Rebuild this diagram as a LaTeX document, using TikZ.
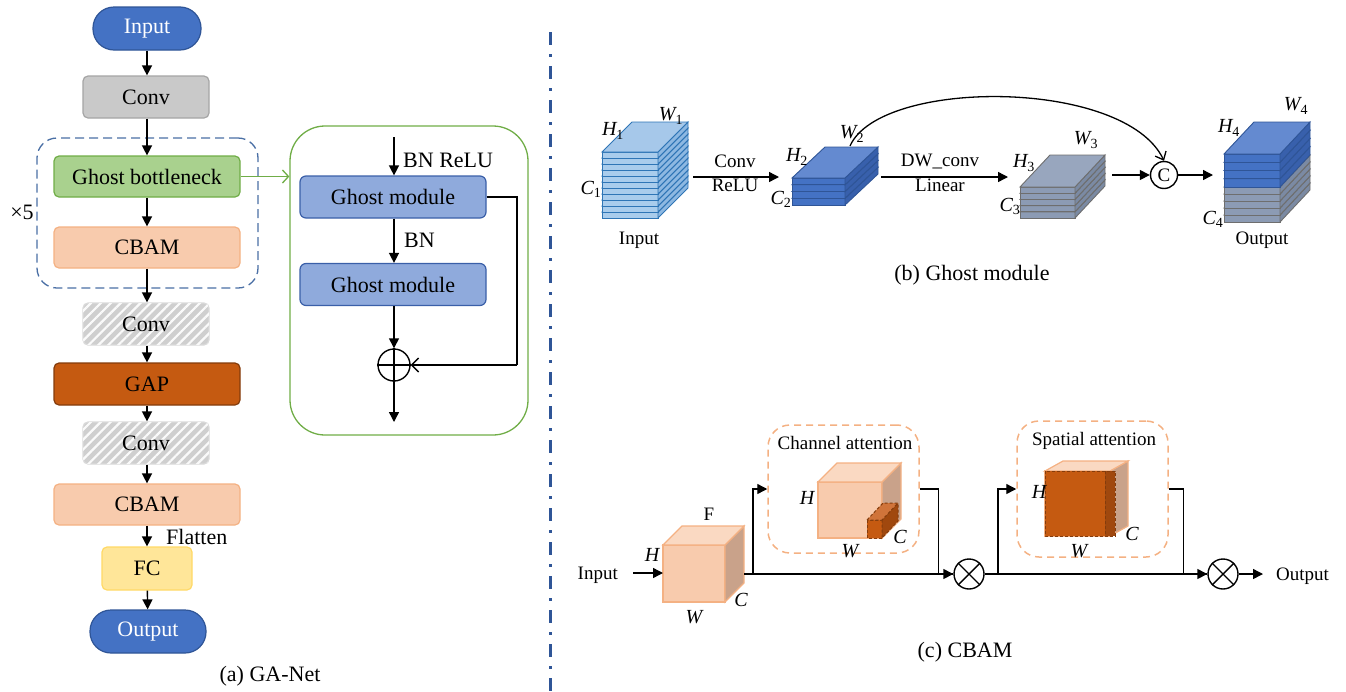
\documentclass[tikz,border=0pt]{standalone}
\usepackage{fontspec}
\setmainfont{Liberation Serif}
\usetikzlibrary{arrows.meta,patterns.meta,calc}
\definecolor{pillblue}{HTML}{4472C4}
\definecolor{pillborder}{HTML}{2F5597}
\definecolor{convfill}{HTML}{C9C9C9}
\definecolor{convborder}{HTML}{A5A5A5}
\definecolor{gbfill}{HTML}{A9D18E}
\definecolor{gbborder}{HTML}{70AD47}
\definecolor{cbfill}{HTML}{F8CBAD}
\definecolor{cbborder}{HTML}{F4B183}
\definecolor{gapfill}{HTML}{C55A11}
\definecolor{gapborder}{HTML}{843C0C}
\definecolor{fcfill}{HTML}{FFE699}
\definecolor{fcborder}{HTML}{FFD966}
\definecolor{gmfill}{HTML}{8FAADC}
\definecolor{gmborder}{HTML}{3A5FA8}
\definecolor{hatchfill}{HTML}{CFCFCF}
\definecolor{hatchborder}{HTML}{DADADA}
\definecolor{repborder}{HTML}{4A6FA5}
\definecolor{divider}{HTML}{2F5597}
\tikzset{
  fbig/.style={font=\fontsize{22}{26}\selectfont},
  fsmall/.style={font=\fontsize{19}{22}\selectfont},
  flab/.style={font=\fontsize{20}{22}\selectfont\itshape, inner sep=0pt},
  flowbox/.style={draw, rectangle, rounded corners=5pt, line width=1.2pt, fbig, inner sep=0pt, text=black},
  pill/.style={flowbox, rounded corners=21pt, fill=pillblue, draw=pillborder, text=white, minimum height=43pt},
  convbox/.style={flowbox, fill=convfill, draw=convborder, minimum width=126pt, minimum height=42pt},
  hatchbox/.style={flowbox, fill=hatchfill, draw=hatchborder, minimum width=126pt, minimum height=42pt,
     postaction={pattern={Lines[angle=45,distance=7pt,line width=2.2pt]}, pattern color=white!90!hatchfill}},
  gbbox/.style={flowbox, fill=gbfill, draw=gbborder, minimum width=186pt, minimum height=41pt},
  cbbox/.style={flowbox, fill=cbfill, draw=cbborder, minimum width=186pt, minimum height=41pt},
  gapbox/.style={flowbox, fill=gapfill, draw=gapborder, minimum width=186pt, minimum height=42pt},
  fcbox/.style={flowbox, fill=fcfill, draw=fcborder, minimum width=90pt, minimum height=43pt},
  gmbox/.style={flowbox, rounded corners=6pt, fill=gmfill, draw=gmborder, minimum width=186pt, minimum height=42pt},
  arr/.style={line width=1.4pt, -{Triangle[length=10pt,width=10pt]}},
  plainline/.style={line width=1.4pt},
  barb/.style={line width=1.4pt, -{Straight Barb[length=7pt,width=14pt]}},
  opcirc/.style={circle, draw, line width=1.4pt, inner sep=0pt},
  attbox/.style={draw=cbborder, dashed, dash pattern=on 7pt off 5pt, line width=1.5pt, rounded corners=22pt},
  c1front/.style={fill={rgb,255:red,169;green,204;blue,236}, draw={rgb,255:red,46;green,117;blue,182}, line width=0.9pt},
  c1side/.style={fill={rgb,255:red,141;green,184;blue,226}, draw={rgb,255:red,46;green,117;blue,182}, line width=0.9pt},
  c1top/.style={fill={rgb,255:red,166;green,200;blue,234}, draw={rgb,255:red,46;green,117;blue,182}, line width=0.9pt},
  c2front/.style={fill={rgb,255:red,68;green,114;blue,196}, draw={rgb,255:red,47;green,85;blue,151}, line width=0.9pt},
  c2side/.style={fill={rgb,255:red,56;green,96;blue,172}, draw={rgb,255:red,47;green,85;blue,151}, line width=0.9pt},
  c2top/.style={fill={rgb,255:red,100;green,138;blue,208}, draw={rgb,255:red,47;green,85;blue,151}, line width=0.9pt},
  c3front/.style={fill={rgb,255:red,140;green,155;blue,180}, draw={rgb,255:red,110;green,110;blue,110}, line width=0.9pt},
  c3side/.style={fill={rgb,255:red,123;green,138;blue,163}, draw={rgb,255:red,110;green,110;blue,110}, line width=0.9pt},
  c3top/.style={fill={rgb,255:red,152;green,166;blue,190}, draw={rgb,255:red,110;green,110;blue,110}, line width=0.9pt},
  ofront/.style={fill=cbfill, draw=cbborder, line width=1.2pt},
  oside/.style={fill={rgb,255:red,201;green,162;blue,138}, draw=cbborder, line width=1.2pt},
  otop/.style={fill={rgb,255:red,250;green,217;blue,194}, draw=cbborder, line width=1.2pt},
  dfront/.style={fill=gapfill, draw=gapborder, dashed, dash pattern=on 3pt off 2pt, line width=1pt},
  dside/.style={fill={rgb,255:red,160;green,72;blue,14}, draw=gapborder, dashed, dash pattern=on 3pt off 2pt, line width=1pt},
  dtop/.style={fill={rgb,255:red,208;green,116;blue,58}, draw=gapborder, dashed, dash pattern=on 3pt off 2pt, line width=1pt},
}
% x, ytop, width, height, dx, dz, front, side, top
\newcommand{\slabbox}[9]{%
  \draw[#7] (#1,#2) rectangle ++(#3,#4);
  \draw[#8] (#1+#3,#2) -- ++(#5,-#6) -- ++(0,#4) -- ++(-#5,#6) -- cycle;
  \draw[#9] (#1,#2) -- ++(#5,-#6) -- ++(#3,0) -- ++(-#5,#6) -- cycle;
}
\begin{document}
\begin{tikzpicture}[x=1pt,y=-1pt]
\useasboundingbox (0,0) rectangle (1346,691);

% ================= (a) GA-Net =================
\node[draw=repborder, dashed, dash pattern=on 9pt off 5pt, line width=1.3pt, rounded corners=20pt,
      minimum width=221pt, minimum height=150pt, inner sep=0pt] (rep) at (147.5,213) {};
\node[pill, minimum width=108pt] (in) at (147,28.5) {Input};
\node[convbox] (conv1) at (146,97) {Conv};
\node[gbbox] (gb) at (147,176.5) {Ghost bottleneck};
\node[cbbox] (cbam1) at (147,247.5) {CBAM};
\node[hatchbox] (conv2) at (146,324) {Conv};
\node[gapbox] (gap) at (147,384) {GAP};
\node[hatchbox] (conv3) at (146,443) {Conv};
\node[cbbox] (cbam2) at (147,504.5) {CBAM};
\node[fcbox] (fc) at (147,568.5) {FC};
\node[pill, minimum width=116pt] (out) at (148,631.5) {Output};
\node[fbig, inner sep=0pt] (times) at (22,212) {×5};
\node[fbig, inner sep=0pt, anchor=west] (flat) at (166,537) {Flatten};
\node[fbig, inner sep=0pt] (capa) at (270,676) {(a) GA-Net};

\draw[arr] (in.south -| 147,0) -- (conv1.north -| 147,0);
\draw[arr] (conv1.south -| 147,0) -- (gb.north -| 147,0);
\draw[arr] (gb) -- (cbam1);
\draw[arr] (cbam1.south -| 147,0) -- (conv2.north -| 147,0);
\draw[arr] (conv2.south -| 147,0) -- (gap.north -| 147,0);
\draw[arr] (gap.south -| 147,0) -- (conv3.north -| 147,0);
\draw[arr] (conv3.south -| 147,0) -- (cbam2.north -| 147,0);
\draw[arr] (cbam2) -- (fc);
\draw[arr] (fc) -- (out);

% ghost bottleneck detail
\node[draw=gbborder, line width=1.3pt, rounded corners=35pt, minimum width=238pt, minimum height=309pt, inner sep=0pt] (gbox) at (409,280.5) {};
\draw[line width=1.3pt, draw=gbborder, -{Straight Barb[length=6pt,width=13pt]}] (gb.east) -- (gb.east -| gbox.west);
\coordinate (gin) at (394,137);
\node[gmbox] (gm1) at (393,197) {Ghost module};
\node[gmbox] (gm2) at (393,284.5) {Ghost module};
\node[opcirc, minimum size=32pt] (plus) at (394,365) {};
\draw[line width=1.3pt] (plus.north) -- (plus.south) (plus.east) -- (plus.west);
\coordinate (gout) at (394,422);
\coordinate (skip) at (517,365);
\node[fbig, inner sep=0pt, anchor=west] (bnrelu) at (403,160) {BN ReLU};
\node[fbig, inner sep=0pt, anchor=west] (bn) at (404,240) {BN};
\draw[arr] (gin) -- (gin |- gm1.north);
\draw[arr] (gm1.south -| gin) -- (gm2.north -| gin);
\draw[arr] (gm2.south -| gin) -- (plus.north);
\draw[plainline] (gm1.east) -| (skip);
\draw[barb] (skip) -- (plus.east);
\draw[arr] (plus.south) -- (gout);

% divider
\draw[divider, line width=3pt, dash pattern=on 13pt off 9pt on 3pt off 9pt] (550,32) -- (550,691);

% ================= (b) Ghost module =================
\foreach \i in {0,...,10}{\slabbox{602}{212-\i*6}{56}{6}{30}{30}{c1front}{c1side}{c1top}}
\foreach \i in {0,...,3}{\slabbox{792}{198.25-\i*6.75}{53}{6.75}{33}{31}{c2front}{c2side}{c2top}}
\foreach \i in {0,...,4}{\slabbox{1020}{211.8-\i*6.2}{55}{6.2}{30}{32}{c3front}{c3side}{c3top}}
\foreach \i in {0,...,4}{\slabbox{1224}{215-\i*7}{56}{7}{30}{32}{c3front}{c3side}{c3top}}
\foreach \i in {0,...,3}{\slabbox{1224}{178.75-\i*8.25}{56}{8.25}{30}{32}{c2front}{c2side}{c2top}}

\node[flab] (h1) at (613,131) {H\textsubscript{\upshape 1}};
\node[flab] (w1) at (671,116) {W\textsubscript{\upshape 1}};
\node[flab] (cc1) at (591,189) {C\textsubscript{\upshape 1}};
\node[flab] (h2) at (797,157) {H\textsubscript{\upshape 2}};
\node[flab] (w2) at (852,134) {W\textsubscript{\upshape 2}};
\node[flab] (cc2) at (781,199) {C\textsubscript{\upshape 2}};
\node[flab] (h3) at (1024,163) {H\textsubscript{\upshape 3}};
\node[flab] (w3) at (1086,140) {W\textsubscript{\upshape 3}};
\node[flab] (cc3) at (1010,206) {C\textsubscript{\upshape 3}};
\node[flab] (h4) at (1229,128) {H\textsubscript{\upshape 4}};
\node[flab] (w4) at (1296,106) {W\textsubscript{\upshape 4}};
\node[flab] (cc4) at (1213,219) {C\textsubscript{\upshape 4}};
\node[fsmall, inner sep=0pt] (binput) at (639,240) {Input};
\node[fsmall, inner sep=0pt] (boutput) at (1262,240) {Output};

\coordinate (a1s) at (693,177);
\coordinate (a1e) at (779,177);
\draw[arr] (a1s) -- (a1e);
\node[fsmall, inner sep=0pt] (convl) at (735,161) {Conv};
\node[fsmall, inner sep=0pt] (relul) at (735,185) {ReLU};
\coordinate (a2s) at (881,177);
\coordinate (a2e) at (1008,177);
\draw[arr] (a2s) -- (a2e);
\node[fsmall, inner sep=0pt] (dwl) at (940,161) {DW\_conv};
\node[fsmall, inner sep=0pt] (linl) at (940,185) {Linear};
\node[opcirc, fsmall, minimum size=27pt] (cat) at (1164,175) {C};
\coordinate (a3s) at (1112,175);
\coordinate (a4e) at (1213,175);
\draw[arr] (a3s) -- (cat.west);
\draw[arr] (cat.east) -- (a4e);
\coordinate (curs) at (850,146);
\draw[line width=1.3pt, -{Straight Barb[length=7pt,width=12pt]}] (curs) .. controls (880,78) and (1125,78) .. (cat.north);
\node[fbig, inner sep=0pt] (capb) at (972,275) {(b) Ghost module};

% ================= (c) CBAM =================
\slabbox{663}{545}{62}{57}{19}{19}{ofront}{oside}{otop}
\node[fsmall, inner sep=0pt] (fl) at (709,514) {F};
\node[flab] (hf) at (652,555) {H};
\node[flab] (wf) at (694,617) {W};
\node[flab] (cf) at (741,600) {C};
\node[fsmall, inner sep=0pt, anchor=east] (cin) at (618,575) {Input};
\coordinate (cins) at (633,573);
\coordinate (cine) at (663,573);
\draw[arr] (cins) -- (cine);

\node[attbox, minimum width=151pt, minimum height=128pt, inner sep=0pt] (cabox) at (843.5,489) {};
\node[fsmall, inner sep=0pt] (catitle) at (845,443) {Channel attention};
\slabbox{818}{482}{64}{56}{19}{19}{ofront}{oside}{otop}
\slabbox{867}{520}{15}{18}{16}{17}{dfront}{dside}{dtop}
\node[flab] (hc) at (807,498) {H};
\node[flab] (wc) at (850,551) {W};
\node[flab] (ccc) at (900,537) {C};

\node[attbox, minimum width=151pt, minimum height=136pt, inner sep=0pt] (sabox) at (1092.5,489) {};
\node[fsmall, inner sep=0pt] (satitle) at (1094,441) {Spatial attention};
\slabbox{1045}{471}{65}{65}{18}{10}{ofront}{oside}{otop}
\draw[dfront] (1045,471) rectangle (1105,536);
\draw[dside] (1105,471) rectangle (1115,536);
\node[flab] (hs) at (1039,492) {H};
\node[flab] (ws) at (1079,551) {W};
\node[flab] (cs) at (1132,534) {C};

\node[opcirc, minimum size=30pt] (mul1) at (969,574) {};
\draw[line width=1.4pt] (mul1.north east) -- (mul1.south west) (mul1.north west) -- (mul1.south east);
\node[opcirc, minimum size=30pt] (mul2) at (1223,574) {};
\draw[line width=1.4pt] (mul2.north east) -- (mul2.south west) (mul2.north west) -- (mul2.south east);

\coordinate (fout) at (744,574);
\coordinate (br1) at (753,574);
\coordinate (br2) at (998,574);
\draw[plainline] (fout) -- (mul1.west);
\draw[arr] (br1) |- (cabox.west);
\draw[arr] (cabox.east) -- ++(19,0) |- (mul1.west);
\draw[plainline] (mul1.east) -- (mul2.west);
\draw[arr] (br2) |- (sabox.west);
\draw[arr] (sabox.east) -- ++(15,0) |- (mul2.west);
\coordinate (coute) at (1263,574);
\draw[arr] (mul2.east) -- (coute);
\node[fsmall, inner sep=0pt, anchor=west] (cout) at (1276,576) {Output};
\node[fbig, inner sep=0pt] (capc) at (965,652) {(c) CBAM};
\end{tikzpicture}
\end{document}
